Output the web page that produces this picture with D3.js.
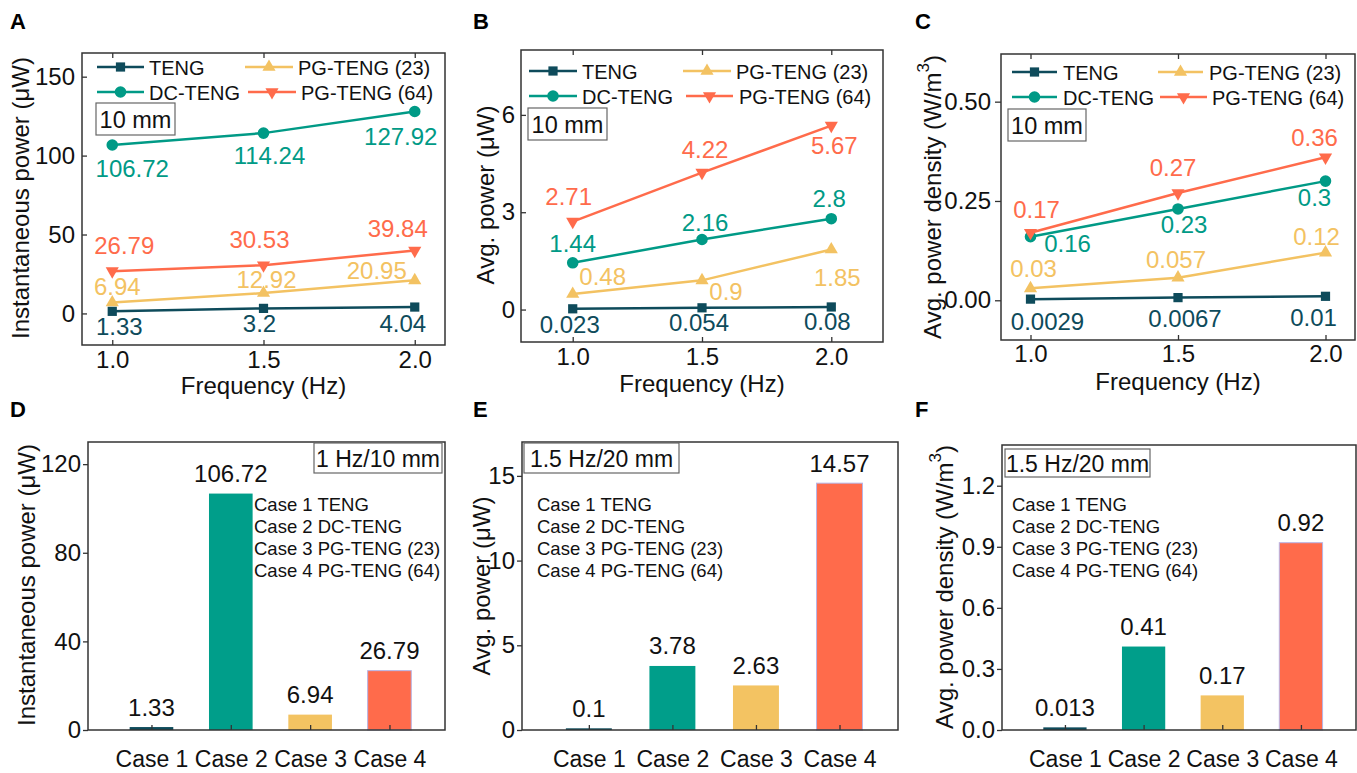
<!DOCTYPE html>
<html><head><meta charset="utf-8">
<script src="https://cdn.jsdelivr.net/npm/d3@7"></script>
<style>
html,body{margin:0;padding:0;background:#fff;}
text{font-family:"Liberation Sans",Arial,sans-serif;}
</style></head>
<body>
<script>
// ---------------- DATA ----------------
const freq = [1.0, 1.5, 2.0];
const seriesNames = ["TENG", "DC-TENG", "PG-TENG (23)", "PG-TENG (64)"];
// A: instantaneous power (µW)
const instTENG = [1.33, 3.2, 4.04];
const instDC   = [106.72, 114.24, 127.92];
const instPG23 = [6.94, 12.92, 20.95];
const instPG64 = [26.79, 30.53, 39.84];
// B: average power (µW)
const avgTENG = [0.023, 0.054, 0.08];
const avgDC   = [1.44, 2.16, 2.8];
const avgPG23 = [0.48, 0.9, 1.85];
const avgPG64 = [2.71, 4.22, 5.67];
// C: average power density (W/m3)
const denTENG = [0.0029, 0.0067, 0.01];
const denDC   = [0.16, 0.23, 0.3];
const denPG23 = [0.03, 0.057, 0.12];
const denPG64 = [0.17, 0.27, 0.36];
// D-F: bar charts
const cases = ["Case 1", "Case 2", "Case 3", "Case 4"];
const caseNames = ["Case 1 TENG", "Case 2 DC-TENG", "Case 3 PG-TENG (23)", "Case 4 PG-TENG (64)"];
const barInst = [1.33, 106.72, 6.94, 26.79];
const barAvg  = [0.1, 3.78, 2.63, 14.57];
const barDen  = [0.013, 0.41, 0.17, 0.92];
// tick labels
const freqTicks = [1.0, 1.5, 2.0];
const ticksA = [0, 50, 100, 150];
const ticksB = [0, 3, 6];
const ticksC = [0, 0.25, 0.5];
const ticksD = [0, 40, 80, 120];
const ticksE = [0, 5, 10, 15];
const ticksF = [0, 0.3, 0.6, 0.9, 1.2];

// ---------------- STYLE ----------------
const colors = ["#0e4b5b", "#009a86", "#f3c262", "#ff6b4b"];
const barColors = ["#0e4b5b", "#009e8a", "#f3c362", "#ff6b4b"];
const markers = ["square", "circle", "triUp", "triDown"];
const TF = "24px";

const svg = d3.select("body").append("svg").attr("width", 1357).attr("height", 773);

function marker(g, type, x, y, color) {
  let sym;
  if (type === "square") sym = d3.symbol().type(d3.symbolSquare).size(85);
  else if (type === "circle") sym = d3.symbol().type(d3.symbolCircle).size(105);
  else sym = d3.symbol().type(d3.symbolTriangle).size(75);
  return g.append("path").attr("d", sym()).attr("fill", color)
    .attr("transform", `translate(${x},${y})` + (type === "triDown" ? " rotate(180)" : ""));
}

function letter(t, x, y) {
  svg.append("text").attr("x", x).attr("y", y).attr("font-size", "22px").attr("font-weight", "bold")
    .attr("font-family", "'Open Sans','Liberation Sans',Arial").text(t);
}

function styleAxis(g) {
  g.select(".domain").remove();
  g.selectAll(".tick line").attr("stroke", "#333").attr("stroke-width", 1.3);
  g.selectAll(".tick text").attr("font-size", TF).attr("fill", "#111")
    .attr("font-family", "'Liberation Sans',Arial");
}

function frameRect(f) {
  svg.append("rect").attr("x", f.x0).attr("y", f.y0).attr("width", f.x1 - f.x0).attr("height", f.y1 - f.y0)
    .attr("fill", "none").attr("stroke", "#333").attr("stroke-width", 1.5);
}

function yTitle(parts, x, y) {
  const t = svg.append("text").attr("transform", `translate(${x},${y}) rotate(-90)`)
    .attr("text-anchor", "middle").attr("dominant-baseline", "central").attr("font-size", TF).attr("fill", "#111");
  parts.forEach(p => {
    const s = t.append("tspan").text(p.t);
    if (p.sup) s.attr("font-size", "17px").attr("dy", -9);
    if (p.down) s.attr("dy", 9);
  });
}

function box(x0, y0, x1, y1, txt, fs) {
  svg.append("rect").attr("x", x0).attr("y", y0).attr("width", x1 - x0).attr("height", y1 - y0)
    .attr("fill", "#fff").attr("stroke", "#666").attr("stroke-width", 1.2);
  svg.append("text").attr("x", (x0 + x1) / 2).attr("y", (y0 + y1) / 2 + 1).attr("text-anchor", "middle")
    .attr("dominant-baseline", "central").attr("font-size", fs).attr("fill", "#111").text(txt);
}

// ---------------- LINE CHARTS ----------------
function lineChart(cfg) {
  const f = cfg.frame;
  const x = d3.scaleLinear().domain(cfg.xDomain).range([f.x0, f.x1]);
  const y = d3.scaleLinear().domain(cfg.yDomain).range([f.y1, f.y0]);
  const g = svg.append("g");
  const ax = g.append("g").attr("transform", `translate(0,${f.y1})`)
    .call(d3.axisBottom(x).tickValues(freqTicks).tickFormat(d3.format(".1f")).tickSizeInner(-5).tickSizeOuter(0).tickPadding(cfg.xPad));
  styleAxis(ax);
  const axt = g.append("g").attr("transform", `translate(0,${f.y0})`)
    .call(d3.axisTop(x).tickValues(freqTicks).tickFormat("").tickSizeInner(-5).tickSizeOuter(0));
  styleAxis(axt);
  const ay = g.append("g").attr("transform", `translate(${f.x0},0)`)
    .call(d3.axisLeft(y).tickValues(cfg.yTicks).tickFormat(cfg.yFmt).tickSizeInner(cfg.yTickIn ? -5 : 6).tickSizeOuter(0).tickPadding(cfg.yPad));
  styleAxis(ay);
  frameRect(f);
  cfg.series.forEach((vals, i) => {
    const pts = freq.map((fq, j) => [x(fq), y(vals[j])]);
    g.append("path").attr("d", d3.line()(pts)).attr("fill", "none").attr("stroke", colors[i]).attr("stroke-width", 2.5);
    pts.forEach((p, j) => {
      marker(g, markers[i], p[0], p[1], colors[i]);
      const o = cfg.labelOff[i][j];
      g.append("text").attr("x", p[0] + o[0]).attr("y", p[1] + o[1]).attr("text-anchor", "middle")
        .attr("dominant-baseline", "central").attr("font-size", TF).attr("fill", colors[i]).text(String(vals[j]));
    });
  });
  const L = cfg.legend;
  const order = [[0, 0], [2, 0], [1, 1], [3, 1]]; // series, row
  order.forEach(([si, r]) => {
    const col = L.cols[si];
    const yy = L.rows[r];
    g.append("line").attr("x1", col[0]).attr("x2", col[1]).attr("y1", yy).attr("y2", yy)
      .attr("stroke", colors[si]).attr("stroke-width", 2.5);
    marker(g, markers[si], (col[0] + col[1]) / 2, yy, colors[si]);
    g.append("text").attr("x", col[2]).attr("y", yy + 1).attr("dominant-baseline", "central")
      .attr("font-size", "20px").attr("fill", "#111").text(seriesNames[si]);
  });
  box(cfg.box[0], cfg.box[1], cfg.box[2], cfg.box[3], "10 mm", "23.5px");
  svg.append("text").attr("x", (f.x0 + f.x1) / 2).attr("y", cfg.xTitleY).attr("text-anchor", "middle")
    .attr("font-size", TF).attr("fill", "#111").text("Frequency (Hz)");
  yTitle(cfg.yTitle, cfg.yTitlePos[0], cfg.yTitlePos[1]);
}

lineChart({
  frame: {x0: 82, x1: 445, y0: 53, y1: 345},
  xDomain: [0.9, 2.1], yDomain: [-20, 165], yTicks: ticksA, yFmt: d3.format("d"), yTickIn: true, yPad: 7, xPad: 6,
  series: [instTENG, instDC, instPG23, instPG64],
  labelOff: [
    [[7, 15], [-4, 15], [-12, 16]],
    [[20, 24], [6, 22], [-14, 25]],
    [[5, -16], [3, -14], [-38, -10]],
    [[12, -26], [-4, -26], [-17, -22]]
  ],
  legend: {rows: [67, 92], cols: [[97, 144, 149], [97, 144, 149], [245, 293, 298], [248, 296, 301]]},
  box: [96, 103, 175, 135],
  xTitleY: 394, yTitle: [{t: "Instantaneous power (μW)"}], yTitlePos: [20, 198]
});

lineChart({
  frame: {x0: 521, x1: 883, y0: 50, y1: 342},
  xDomain: [0.8, 2.2], yDomain: [-1, 8], yTicks: ticksB, yFmt: d3.format("d"), yTickIn: true, yPad: 6, xPad: 6,
  series: [avgTENG, avgDC, avgPG23, avgPG64],
  labelOff: [
    [[-3, 16], [-3, 15], [-4, 15]],
    [[0, -19], [3, -17], [-2, -20]],
    [[30, -17], [24, 11], [6, 28]],
    [[-4, -25], [3, -23], [3, 20]]
  ],
  legend: {rows: [71, 96], cols: [[529, 577, 582], [529, 577, 582], [683, 731, 736], [686, 733, 739]]},
  box: [528, 108, 607, 140],
  xTitleY: 392, yTitle: [{t: "Avg. power (μW)"}], yTitlePos: [485, 195]
});

lineChart({
  frame: {x0: 1001, x1: 1355, y0: 54, y1: 340},
  xDomain: [0.9, 2.1], yDomain: [-0.1, 0.62], yTicks: ticksC, yFmt: d3.format(".2f"), yTickIn: false, yPad: 4, xPad: 5,
  series: [denTENG, denDC, denPG23, denPG64],
  labelOff: [
    [[17, 22], [7, 21], [-12, 21]],
    [[37, 7], [6, 16], [-11, 16]],
    [[3, -20], [-2, -18], [-9, -16]],
    [[6, -23], [-5, -26], [-11, -20]]
  ],
  legend: {rows: [72, 97], cols: [[1012, 1057, 1063], [1012, 1057, 1063], [1158, 1203, 1209], [1160, 1207, 1212]]},
  box: [1008, 109, 1086, 141],
  xTitleY: 390, yTitle: [{t: "Avg. power density (W/m"}, {t: "3", sup: true}, {t: ")", down: true}], yTitlePos: [932, 197]
});

// ---------------- BAR CHARTS ----------------
function barChart(cfg) {
  const f = cfg.frame;
  const x = d3.scaleLinear().domain([0.2, 4.7]).range([f.x0, f.x1]);
  const y = d3.scaleLinear().domain(cfg.yDomain).range([f.y1, f.y0]);
  const g = svg.append("g");
  const bw = x(1.55) - x(1);
  cfg.values.forEach((v, i) => {
    g.append("rect").attr("x", x(i + 1) - bw / 2).attr("y", y(v)).attr("width", bw).attr("height", y(0) - y(v))
      .attr("fill", barColors[i]).attr("stroke", i === 3 ? "#b6b4e6" : "none").attr("stroke-width", 1);
    g.append("text").attr("x", x(i + 1)).attr("y", y(v) - 20).attr("text-anchor", "middle")
      .attr("dominant-baseline", "central").attr("font-size", TF).attr("fill", "#111").text(String(v));
  });
  const ax = g.append("g").attr("transform", `translate(0,${f.y1})`)
    .call(d3.axisBottom(x).tickValues([1, 2, 3, 4]).tickFormat(d => cases[d - 1]).tickSizeInner(-5).tickSizeOuter(0).tickPadding(21));
  styleAxis(ax);
  ax.selectAll(".tick text").attr("font-family", "'Open Sans','Liberation Sans',Arial").attr("font-size", "23px");
  const ay = g.append("g").attr("transform", `translate(${f.x0},0)`)
    .call(d3.axisLeft(y).tickValues(cfg.yTicks).tickFormat(cfg.yFmt).tickSizeInner(5).tickSizeOuter(0).tickPadding(2));
  styleAxis(ay);
  frameRect(f);
  box(cfg.box[0], cfg.box[1], cfg.box[2], cfg.box[3], cfg.boxText, "23px");
  caseNames.forEach((t, i) => {
    g.append("text").attr("x", cfg.legX).attr("y", cfg.legY[i]).attr("dominant-baseline", "central")
      .attr("font-size", "18.5px").attr("fill", "#111").text(t);
  });
  yTitle(cfg.yTitle, cfg.yTitlePos[0], cfg.yTitlePos[1]);
}
const legRows = [504, 526, 548, 570];

barChart({
  frame: {x0: 88, x1: 445, y0: 442, y1: 730},
  yDomain: [0, 130], yTicks: ticksD, yFmt: d3.format("d"), values: barInst,
  box: [314, 443, 442, 473], boxText: "1 Hz/10 mm", legX: 254, legY: legRows,
  yTitle: [{t: "Instantaneous power (μW)"}], yTitlePos: [26, 585]
});
barChart({
  frame: {x0: 522, x1: 898, y0: 442, y1: 730},
  yDomain: [0, 17], yTicks: ticksE, yFmt: d3.format("d"), values: barAvg,
  box: [524, 443, 679, 473], boxText: "1.5 Hz/20 mm", legX: 537, legY: legRows,
  yTitle: [{t: "Avg. power (μW)"}], yTitlePos: [481, 586]
});
barChart({
  frame: {x0: 1002, x1: 1356, y0: 445, y1: 730},
  yDomain: [0, 1.4], yTicks: ticksF, yFmt: d3.format(".1f"), values: barDen,
  box: [1005, 449, 1150, 477], boxText: "1.5 Hz/20 mm", legX: 1012, legY: legRows,
  yTitle: [{t: "Avg. power density (W/m"}, {t: "3", sup: true}, {t: ")", down: true}], yTitlePos: [944, 587]
});

letter("A", 10, 29); letter("B", 473, 29); letter("C", 915, 29);
letter("D", 10, 417); letter("E", 473, 417); letter("F", 915, 417);
</script>
</body></html>
